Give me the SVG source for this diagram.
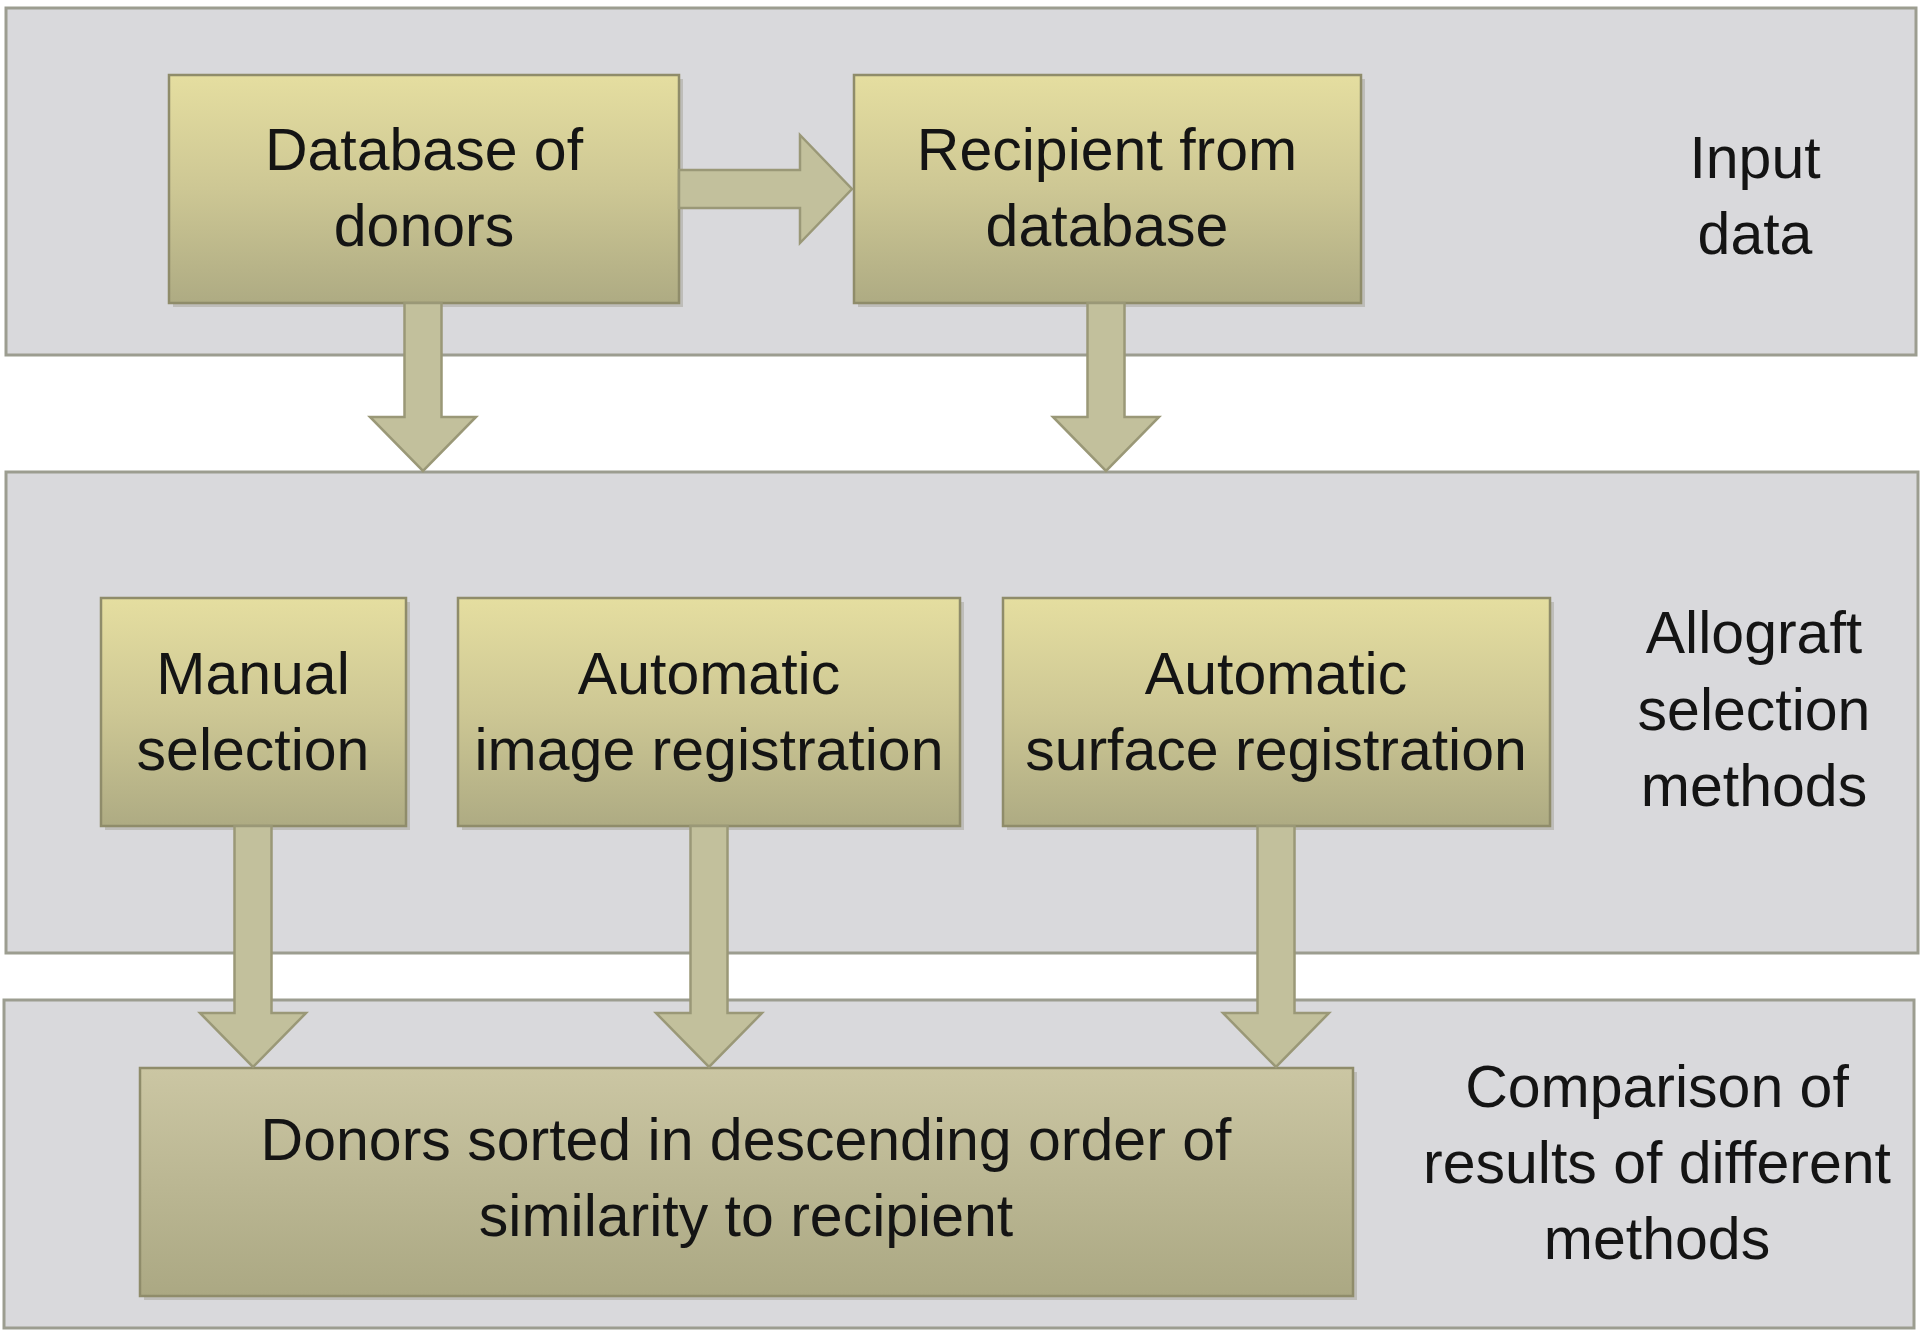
<svg xmlns="http://www.w3.org/2000/svg" width="1923" height="1331" viewBox="0 0 1923 1331">
<defs>
<linearGradient id="gN" x1="0" y1="0" x2="0" y2="1">
<stop offset="0" stop-color="#e5dea0"/>
<stop offset="0.5" stop-color="#cdc794"/>
<stop offset="1" stop-color="#aeab83"/>
</linearGradient>
<linearGradient id="gB" x1="0" y1="0" x2="0" y2="1">
<stop offset="0" stop-color="#cbc6a3"/>
<stop offset="1" stop-color="#aba883"/>
</linearGradient>
</defs>
<style>
.panel{fill:#d9d9dc;stroke:#9c9d90;stroke-width:3}
.node{fill:url(#gN);stroke:#8f8c6a;stroke-width:2.5}
.nodeb{fill:url(#gB);stroke:#8f8c6a;stroke-width:2.5}
.shadow{fill:#8c8a78;opacity:0.35}
.arrow{fill:#c2c09c;stroke:#9a9877;stroke-width:2.5;stroke-linejoin:miter}
text{font-family:"Liberation Sans",Arial,sans-serif;font-size:59px;fill:#141414;text-anchor:middle}
</style>
<rect width="1923" height="1331" fill="#ffffff"/>
<g id="panel-input">
<rect class="panel" x="6" y="8" width="1910" height="347"/>
<text x="1755" y="178">Input</text>
<text x="1755" y="254">data</text>
</g>
<g id="panel-methods">
<rect class="panel" x="6" y="472" width="1912" height="481"/>
<text x="1754" y="653">Allograft</text>
<text x="1754" y="730">selection</text>
<text x="1754" y="806">methods</text>
</g>
<g id="panel-comparison">
<rect class="panel" x="4" y="1000" width="1910" height="328"/>
<text x="1657" y="1107">Comparison of</text>
<text x="1657" y="1183">results of different</text>
<text x="1657" y="1259">methods</text>
</g>
<g id="node-database">
<rect class="shadow" x="173" y="79" width="510" height="228"/>
<rect class="node" x="169" y="75" width="510" height="228"/>
<text x="424" y="170">Database of</text>
<text x="424" y="246">donors</text>
</g>
<g id="node-recipient">
<rect class="shadow" x="858" y="79" width="507" height="228"/>
<rect class="node" x="854" y="75" width="507" height="228"/>
<text x="1107" y="170">Recipient from</text>
<text x="1107" y="246">database</text>
</g>
<g id="node-manual">
<rect class="shadow" x="105" y="602" width="305" height="228"/>
<rect class="node" x="101" y="598" width="305" height="228"/>
<text x="253" y="694">Manual</text>
<text x="253" y="770">selection</text>
</g>
<g id="node-image">
<rect class="shadow" x="462" y="602" width="502" height="228"/>
<rect class="node" x="458" y="598" width="502" height="228"/>
<text x="709" y="694">Automatic</text>
<text x="709" y="770">image registration</text>
</g>
<g id="node-surface">
<rect class="shadow" x="1007" y="602" width="547" height="228"/>
<rect class="node" x="1003" y="598" width="547" height="228"/>
<text x="1276" y="694">Automatic</text>
<text x="1276" y="770">surface registration</text>
</g>
<g id="node-sorted">
<rect class="shadow" x="144" y="1072" width="1213" height="228"/>
<rect class="nodeb" x="140" y="1068" width="1213" height="228"/>
<text x="746" y="1160">Donors sorted in descending order of</text>
<text x="746" y="1236">similarity to recipient</text>
</g>
<g id="connectors">
<polygon class="arrow" points="679,170 800,170 800,135 852,189 800,243 800,208 679,208"/>
<polygon class="arrow" points="404.5,303 441.5,303 441.5,417 476,417 423,471 370,417 404.5,417"/>
<polygon class="arrow" points="1087.5,303 1124.5,303 1124.5,417 1159,417 1106,471 1053,417 1087.5,417"/>
<polygon class="arrow" points="234.5,826 271.5,826 271.5,1013 306,1013 253,1067 200,1013 234.5,1013"/>
<polygon class="arrow" points="690.5,826 727.5,826 727.5,1013 762,1013 709,1067 656,1013 690.5,1013"/>
<polygon class="arrow" points="1257.5,826 1294.5,826 1294.5,1013 1329,1013 1276,1067 1223,1013 1257.5,1013"/>
</g>
</svg>
